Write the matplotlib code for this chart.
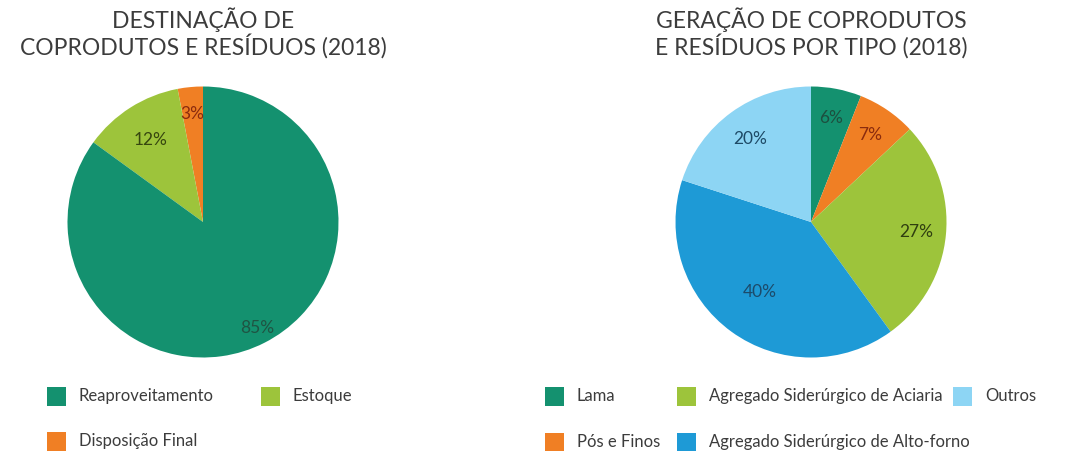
import matplotlib
matplotlib.use("Agg")
import matplotlib.pyplot as plt
from matplotlib.patches import Rectangle
import numpy as np

plt.rcParams['font.family'] = ['Lato', 'DejaVu Sans']

# ---- data ----
dest_labels = ["Reaproveitamento", "Estoque", "Disposição Final"]
dest_values = [85, 12, 3]

tipo_labels = ["Lama", "Pós e Finos", "Agregado Siderúrgico de Aciaria",
               "Agregado Siderúrgico de Alto-forno", "Outros"]
tipo_values = [6, 7, 27, 40, 20]

title_left = "DESTINAÇÃO DE\nCOPRODUTOS E RESÍDUOS (2018)"
title_right = "GERAÇÃO DE COPRODUTOS\nE RESÍDUOS POR TIPO (2018)"

# ---- style ----
GREEN, LIME, ORANGE = "#14916F", "#9DC43B", "#F07F24"
LBLUE, BLUE = "#8DD5F4", "#1E9AD6"
dest_colors = [GREEN, LIME, ORANGE]
dest_text = ["#1F5443", "#36460F", "#8A2B0E"]
tipo_colors = [GREEN, ORANGE, LIME, BLUE, LBLUE]
tipo_text = ["#1D4F3F", "#8A2B0E", "#2F3E10", "#1C4B6B", "#1E4A66"]
TXT = "#3C3C3C"

W, H = 1080, 451
fig = plt.figure(figsize=(W / 100, H / 100), dpi=100)
fig.patch.set_facecolor("white")


def px_axes(cx, cy, r):
    return fig.add_axes([(cx - r) / W, 1 - (cy + r) / H, 2 * r / W, 2 * r / H])


def draw_pie(ax, values, colors, tcolors, radii, counterclock):
    wedges, _ = ax.pie(values, colors=colors, startangle=90,
                       counterclock=counterclock, radius=1,
                       wedgeprops=dict(linewidth=0))
    for w, v, c, rr in zip(wedges, values, tcolors, radii):
        ang = np.deg2rad((w.theta1 + w.theta2) / 2)
        ax.text(rr * np.cos(ang), rr * np.sin(ang), f"{v}%", color=c,
                ha="center", va="center", fontsize=12.5)
    ax.set_xlim(-1, 1)
    ax.set_ylim(-1, 1)
    ax.set_aspect("equal")
    ax.axis("off")


R = 135.5
ax1 = px_axes(203, 222, R)
# drawn counter-clockwise from the top: Disposição Final, Estoque, Reaproveitamento
order1 = [2, 1, 0]
draw_pie(ax1, [dest_values[i] for i in order1], [dest_colors[i] for i in order1],
         [dest_text[i] for i in order1], [0.80, 0.72, 0.88], True)

ax2 = px_axes(811, 222, R)
draw_pie(ax2, tipo_values, tipo_colors, tipo_text,
         [0.78, 0.78, 0.78, 0.64, 0.76], False)

# titles
fig.text(203 / W, 1 - 33 / H, title_left, ha="center", va="center",
         fontsize=16.5, color=TXT, linespacing=1.12)
fig.text(811 / W, 1 - 33 / H, title_right, ha="center", va="center",
         fontsize=16.5, color=TXT, linespacing=1.12)


def legend_item(x, y, color, label):
    fig.patches.append(Rectangle((x / W, 1 - (y + 9.5) / H), 19 / W, 19 / H,
                                 transform=fig.transFigure, color=color,
                                 linewidth=0))
    fig.text((x + 32) / W, 1 - y / H, label, ha="left", va="center",
             fontsize=12, color=TXT)


# left legend
left_pos = [(47, 396), (261, 396), (47, 441)]
for (x, y), c, lab in zip(left_pos, dest_colors, dest_labels):
    legend_item(x, y, c, lab)

# right legend
right_pos = [(545, 396), (545, 442), (677, 396), (677, 442), (953, 396)]
for (x, y), c, lab in zip(right_pos, tipo_colors, tipo_labels):
    legend_item(x, y, c, lab)

fig.savefig("out.png", dpi=100, facecolor="white")
